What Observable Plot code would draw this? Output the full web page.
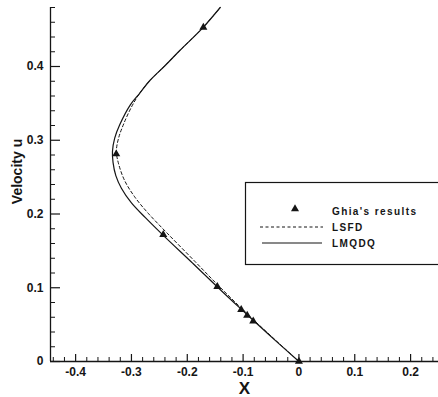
<!DOCTYPE html>
<html><head><meta charset="utf-8">
<script src="https://cdn.jsdelivr.net/npm/d3@7"></script>
<script src="https://cdn.jsdelivr.net/npm/@observablehq/plot@0.6"></script>
<style>
body{margin:0;background:#fff;}
#chart{width:438px;height:397px;}
</style>
</head><body><div id="chart"></div>
<script>
// Ghia's results (points)
const ghiaX = [0, -0.08186, -0.09266, -0.10338, -0.14612, -0.24299, -0.32726, -0.17119];
const ghiaU = [0, 0.0547, 0.0625, 0.0703, 0.1016, 0.1719, 0.2813, 0.4531];
// LMQDQ (solid)
const lmqdqX = [0, -0.040, -0.082, -0.115, -0.146, -0.190, -0.243, -0.275, -0.300, -0.318, -0.328, -0.333, -0.334, -0.330, -0.321, -0.302, -0.285, -0.267, -0.240, -0.213, -0.174, -0.141];
const lmqdqU = [0, 0.027, 0.056, 0.079, 0.101, 0.133, 0.171, 0.195, 0.215, 0.235, 0.252, 0.270, 0.285, 0.303, 0.321, 0.348, 0.364, 0.381, 0.401, 0.422, 0.451, 0.480];
// LSFD (dashed)
const lsfdX = [0, -0.082, -0.143, -0.188, -0.236, -0.270, -0.293, -0.312, -0.323, -0.327, -0.323, -0.314, -0.300, -0.285, -0.267, -0.240, -0.213, -0.174, -0.141];
const lsfdU = [0, 0.057, 0.102, 0.137, 0.174, 0.201, 0.222, 0.245, 0.268, 0.285, 0.303, 0.322, 0.345, 0.364, 0.381, 0.401, 0.422, 0.451, 0.480];
// axes
const xDomain = [-0.445, 0.25];
const yDomain = [0, 0.48];
const xMajor = [-0.4, -0.3, -0.2, -0.1, 0, 0.1, 0.2];
const xMinor = [-0.44, -0.42, -0.38, -0.36, -0.34, -0.32, -0.28, -0.26, -0.24, -0.22, -0.18, -0.16, -0.14, -0.12, -0.08, -0.06, -0.04, -0.02, 0.02, 0.04, 0.06, 0.08, 0.12, 0.14, 0.16, 0.18, 0.22, 0.24];
const yMajor = [0, 0.1, 0.2, 0.3, 0.4];
const yMinor = [0.02, 0.04, 0.06, 0.08, 0.12, 0.14, 0.16, 0.18, 0.22, 0.24, 0.26, 0.28, 0.32, 0.34, 0.36, 0.38, 0.42, 0.44, 0.46, 0.48];
const xLabel = "X";
const yLabel = "Velocity u";
const legendLabels = ["Ghia's results", "LSFD", "LMQDQ"];

const ghia = ghiaX.map((x, i) => ({x, u: ghiaU[i]}));
const lmqdq = lmqdqX.map((x, i) => ({x, u: lmqdqU[i]}));
const lsfd = lsfdX.map((x, i) => ({x, u: lsfdU[i]}));

const W = 438, H = 397, mL = 50, mR = 0, mT = 7, mB = 36;
const frameW = W - mL - mR, frameH = H - mT - mB;
const fmt = d => String(d);
const ink = "#151515";

const svg = Plot.plot({
  width: W, height: H,
  marginLeft: mL, marginRight: mR, marginTop: mT, marginBottom: mB,
  x: {domain: xDomain},
  y: {domain: yDomain},
  style: {fontFamily: "'Liberation Sans', Arial, sans-serif", fontWeight: "bold", background: "white", color: ink},
  marks: [
    Plot.ruleX([xDomain[0]], {stroke: ink, strokeWidth: 1.3}),
    Plot.ruleY([yDomain[0]], {stroke: ink, strokeWidth: 1.3}),
    // inward-pointing ticks
    Plot.ruleX(xMinor, {x: d => d, insetTop: frameH - 4, stroke: ink, strokeWidth: 1}),
    Plot.ruleX(xMajor, {x: d => d, insetTop: frameH - 7, stroke: ink, strokeWidth: 1.2}),
    Plot.ruleY(yMinor, {y: d => d, insetRight: frameW - 5, stroke: ink, strokeWidth: 1}),
    Plot.ruleY(yMajor, {y: d => d, insetRight: frameW - 10, stroke: ink, strokeWidth: 1.2}),
    // tick labels
    Plot.axisX({ticks: xMajor, tickSize: 0, tickPadding: 6, tickFormat: fmt, fontSize: 12, label: null}),
    Plot.axisY({ticks: yMajor, tickSize: 0, tickPadding: 7, tickFormat: fmt, fontSize: 12, label: null}),
    Plot.text([yLabel], {text: d => d, frameAnchor: "left", textAnchor: "middle", lineAnchor: "middle", rotate: -90, dx: -33, dy: -13, fontSize: 14, fontWeight: "bold", fill: ink}),
    Plot.text([xLabel], {text: d => d, frameAnchor: "bottom", textAnchor: "middle", lineAnchor: "middle", dy: 27, fontSize: 17, fontWeight: "bold", fill: ink}),
    Plot.line(lsfd, {x: "x", y: "u", curve: "catmull-rom", stroke: ink, strokeWidth: 1, strokeDasharray: "3,2.5"}),
    Plot.line(lmqdq, {x: "x", y: "u", curve: "catmull-rom", stroke: ink, strokeWidth: 1.2}),
    Plot.dot(ghia, {x: "x", y: "u", symbol: "triangle", r: 3, fill: ink, stroke: "none"})
  ]
});
document.getElementById("chart").appendChild(svg);

// legend box inside plot
const g = d3.select(svg).append("g").attr("font-family", "'Liberation Sans', Arial, sans-serif").attr("font-weight", "bold").attr("text-anchor", "start");
g.append("rect").attr("x", 245.5).attr("y", 182.5).attr("width", 210).attr("height", 82)
  .attr("fill", "white").attr("stroke", ink).attr("stroke-width", 1.2);
g.append("path").attr("d", d3.symbol(d3.symbolTriangle, 28)()).attr("transform", "translate(295,209)").attr("fill", ink);
g.append("line").attr("x1", 260).attr("x2", 323).attr("y1", 227).attr("y2", 227).attr("stroke", ink).attr("stroke-width", 1).attr("stroke-dasharray", "3,2.5");
g.append("line").attr("x1", 262).attr("x2", 322).attr("y1", 243).attr("y2", 243).attr("stroke", ink).attr("stroke-width", 1.2);
legendLabels.forEach((t, i) => {
  g.append("text").attr("x", 332).attr("y", [211, 227, 243][i] + 3.5).attr("font-size", 10)
    .attr("letter-spacing", "1.4px").attr("text-anchor", "start").attr("fill", ink).text(t);
});
</script>
</body></html>
